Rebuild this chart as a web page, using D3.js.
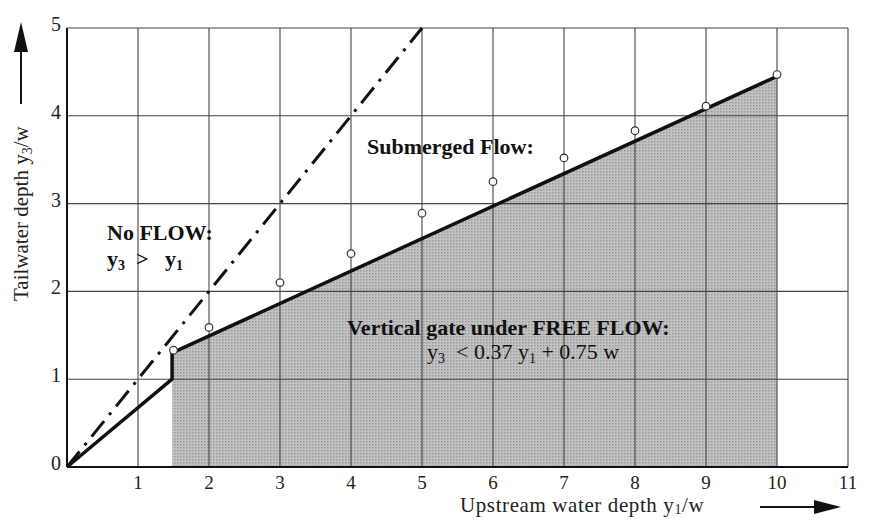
<!DOCTYPE html>
<html>
<head>
<meta charset="utf-8">
<script src="https://cdn.jsdelivr.net/npm/d3@7"></script>
<style>
  body { margin: 0; background: #fff; }
  svg { display: block; font-family: "Liberation Serif", "DejaVu Serif", serif; }
</style>
</head>
<body>
<svg id="chart" width="870" height="521"></svg>
<script>
// data
const xTicks = [1, 2, 3, 4, 5, 6, 7, 8, 9, 10, 11];
const yTicks = [0, 1, 2, 3, 4, 5];
const measuredX = [1.5, 2, 3, 4, 5, 6, 7, 8, 9, 10];
const measuredY = [1.33, 1.59, 2.1, 2.43, 2.89, 3.25, 3.52, 3.83, 4.11, 4.47];
const noFlowX = [0, 5];
const noFlowY = [0, 5];
const limitX = [0, 1.48, 1.48, 10];
const limitY = [0, 1.0, 1.3, 4.45];
const freeX = [1.48, 1.48, 10, 10];
const freeY = [0, 1.3, 4.45, 0];

const svg = d3.select("#chart");

const x = d3.scaleLinear().domain([0, 11]).range([67, 848]);
const y = d3.scaleLinear().domain([0, 5]).range([467, 28]);

// stipple pattern for the free flow area
const defs = svg.append("defs");
const pat = defs.append("pattern")
  .attr("id", "dots")
  .attr("width", 3).attr("height", 3)
  .attr("patternUnits", "userSpaceOnUse");
pat.append("rect").attr("width", 3).attr("height", 3).attr("fill", "#c2c2c2");
pat.append("rect").attr("width", 1.5).attr("height", 1.5).attr("fill", "#9a9a9a");

// shaded free flow region
const area = freeX.map((v, i) => [x(v), y(freeY[i])]);
svg.append("path")
  .attr("d", d3.line()(area) + "Z")
  .attr("fill", "url(#dots)");

// grid
svg.append("g")
  .selectAll("line")
  .data(xTicks)
  .join("line")
  .attr("x1", d => x(d)).attr("x2", d => x(d))
  .attr("y1", y(0)).attr("y2", y(5))
  .attr("stroke", "#444").attr("stroke-width", 1.1);

svg.append("g")
  .selectAll("line")
  .data(yTicks.slice(1))
  .join("line")
  .attr("x1", x(0)).attr("x2", x(11))
  .attr("y1", d => y(d)).attr("y2", d => y(d))
  .attr("stroke", "#444").attr("stroke-width", 1.1);

// axes
svg.append("line")
  .attr("x1", x(0)).attr("x2", x(11))
  .attr("y1", y(0)).attr("y2", y(0))
  .attr("stroke", "#111").attr("stroke-width", 2);
svg.append("line")
  .attr("x1", x(0)).attr("x2", x(0))
  .attr("y1", y(0)).attr("y2", y(5))
  .attr("stroke", "#111").attr("stroke-width", 2);

// tick labels
svg.append("g")
  .selectAll("text")
  .data(xTicks)
  .join("text")
  .attr("x", d => x(d))
  .attr("y", 489)
  .attr("text-anchor", "middle")
  .attr("font-size", 19)
  .attr("fill", "#222")
  .text(d => d);

svg.append("g")
  .selectAll("text")
  .data(yTicks)
  .join("text")
  .attr("x", 61)
  .attr("y", d => y(d) + 3)
  .attr("text-anchor", "end")
  .attr("font-size", 20)
  .attr("fill", "#222")
  .text(d => d);

// no flow line y3 = y1
const line = d3.line().x(d => x(d[0])).y(d => y(d[1]));
svg.append("path")
  .attr("d", line(noFlowX.map((v, i) => [v, noFlowY[i]])))
  .attr("fill", "none")
  .attr("stroke", "#111")
  .attr("stroke-width", 3)
  .attr("stroke-dasharray", "20,8,3,8");

// free flow limit
svg.append("path")
  .attr("d", line(limitX.map((v, i) => [v, limitY[i]])))
  .attr("fill", "none")
  .attr("stroke", "#111")
  .attr("stroke-width", 3.5)
  .attr("stroke-linejoin", "round");

// measured points
svg.append("g")
  .selectAll("circle")
  .data(measuredX)
  .join("circle")
  .attr("cx", d => x(d))
  .attr("cy", (d, i) => y(measuredY[i]))
  .attr("r", 3.8)
  .attr("fill", "#fff")
  .attr("stroke", "#333")
  .attr("stroke-width", 1.2);

// annotations
const note = (tx, ty, str, weight) => svg.append("text")
  .attr("x", tx).attr("y", ty)
  .attr("font-size", 22)
  .attr("font-weight", weight)
  .attr("fill", "#111")
  .html(str);

const sub = (s, d = 4) => `<tspan font-size='14' dy='${d}'>${s}</tspan>`;

note(107, 240, "No FLOW:", "bold");
note(107, 266, `y${sub(3)}<tspan dy='-4'>&#160;&#160;&gt;&#160;&#160;&#160;y</tspan>${sub(1)}`, "bold");
note(367, 154, "Submerged Flow:", "bold");
note(347, 335, "Vertical gate under FREE FLOW:", "bold");
note(427, 359, `y${sub(3)}<tspan dy='-4'>&#160;&#160;&lt; 0.37 y</tspan>${sub(1)}<tspan dy='-4'> + 0.75 w</tspan>`, "normal");

// axis titles with arrows
svg.append("text")
  .attr("x", 460).attr("y", 512)
  .attr("font-size", 21)
  .attr("letter-spacing", 0.6)
  .attr("fill", "#222")
  .html(`Upstream water depth y${sub(1, 2)}<tspan dy='-2'>/w</tspan>`);
svg.append("line")
  .attr("x1", 760).attr("x2", 820)
  .attr("y1", 507).attr("y2", 507)
  .attr("stroke", "#111").attr("stroke-width", 2);
svg.append("path")
  .attr("d", "M814,500 L841,507 L814,514 Z")
  .attr("fill", "#111");

svg.append("text")
  .attr("transform", "translate(28,301) rotate(-90)")
  .attr("font-size", 21)
  .attr("fill", "#222")
  .html(`Tailwater depth y${sub(3)}<tspan dy='-4'>/w</tspan>`);
svg.append("line")
  .attr("x1", 21).attr("x2", 21)
  .attr("y1", 104).attr("y2", 48)
  .attr("stroke", "#111").attr("stroke-width", 2);
svg.append("path")
  .attr("d", "M14,52 L21,22 L28,52 Z")
  .attr("fill", "#111");
</script>
</body>
</html>
